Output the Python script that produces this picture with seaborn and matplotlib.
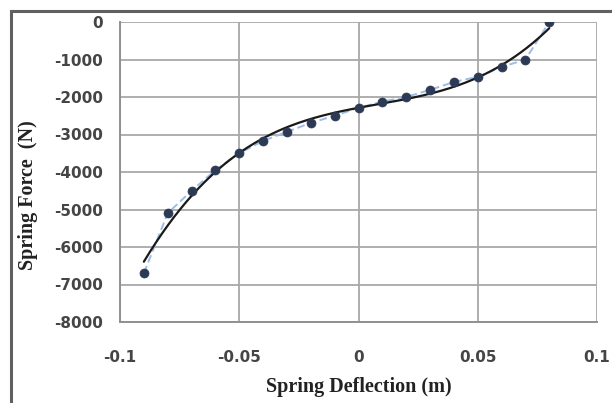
import numpy as np
import pandas as pd
import matplotlib
matplotlib.use("Agg")
import matplotlib.pyplot as plt
import seaborn as sns
from matplotlib.patches import Rectangle

# Data
deflection = [-0.09, -0.08, -0.07, -0.06, -0.05, -0.04, -0.03, -0.02, -0.01,
              0.0, 0.01, 0.02, 0.03, 0.04, 0.05, 0.06, 0.07, 0.08]
force = [-6700, -5100, -4500, -3950, -3500, -3170, -2930, -2690, -2500,
         -2290, -2120, -2000, -1810, -1600, -1460, -1200, -1000, 0]
x_ticks = [-0.1, -0.05, 0, 0.05, 0.1]
x_tick_labels = ["-0.1", "-0.05", "0", "0.05", "0.1"]
y_ticks = [0, -1000, -2000, -3000, -4000, -5000, -6000, -7000, -8000]
y_tick_labels = ["0", "-1000", "-2000", "-3000", "-4000", "-5000", "-6000", "-7000", "-8000"]

df = pd.DataFrame({"x": deflection, "y": force})

# polynomial trend line (derived from the data)
coef = np.polyfit(df["x"], df["y"], 3)
xs = np.linspace(min(deflection), max(deflection), 200)
fit = pd.DataFrame({"x": xs, "y": np.polyval(coef, xs)})

sns.set_theme(style="white")
plt.rcParams["axes.unicode_minus"] = False

fig = plt.figure(figsize=(6.12, 4.03), dpi=100)
ax = fig.add_axes([120 / 612, 1 - 322 / 403, (597 - 120) / 612, (322 - 22) / 403])

grid_c = "#a8a8a8"
for t in x_ticks:
    ax.axvline(t, color=grid_c, lw=1.3, zorder=0)
for t in y_ticks:
    ax.axhline(t, color=grid_c, lw=1.3, zorder=0)

sns.lineplot(data=df, x="x", y="y", ax=ax, color="#9cbde6", lw=1.4,
             linestyle=(0, (4, 2)), zorder=2)
sns.lineplot(data=fit, x="x", y="y", ax=ax, color="#1a1a1a", lw=1.6, zorder=3)
sns.scatterplot(data=df, x="x", y="y", ax=ax, color="#2d3a55", s=42,
                edgecolor="#2d3a55", linewidth=0.5, zorder=4)

ax.set_xlim(-0.1, 0.1)
ax.set_ylim(-8000, 0)
ax.set_xticks(x_ticks)
ax.set_xticklabels(x_tick_labels)
ax.set_yticks(y_ticks)
ax.set_yticklabels(y_tick_labels)
ax.tick_params(axis="both", direction="out", length=5, width=1.2, color="#909090",
               labelsize=11, labelcolor="#454545", pad=7)
ax.tick_params(axis="x", pad=15)
for lab in ax.get_xticklabels() + ax.get_yticklabels():
    lab.set_fontweight("bold")
for s in ["top", "right"]:
    ax.spines[s].set_visible(False)
for s in ["left", "bottom"]:
    ax.spines[s].set_color("#909090")
    ax.spines[s].set_linewidth(1.4)

ax.set_xlabel("Spring Deflection (m)", fontfamily="Liberation Serif",
              fontweight="bold", fontsize=14.5, color="#222222", labelpad=9)
ax.set_ylabel("Spring Force  (N)", fontfamily="Liberation Serif",
              fontweight="bold", fontsize=14.5, color="#222222")
ax.yaxis.set_label_coords(-0.171, 0.423)

fig.patches.append(Rectangle((11 / 612, -0.01), 1.0, 1 - 11 / 403 + 0.01,
                             transform=fig.transFigure, fill=False,
                             edgecolor="#606060", lw=2.2, zorder=-1))

fig.savefig("out.png", dpi=100)
